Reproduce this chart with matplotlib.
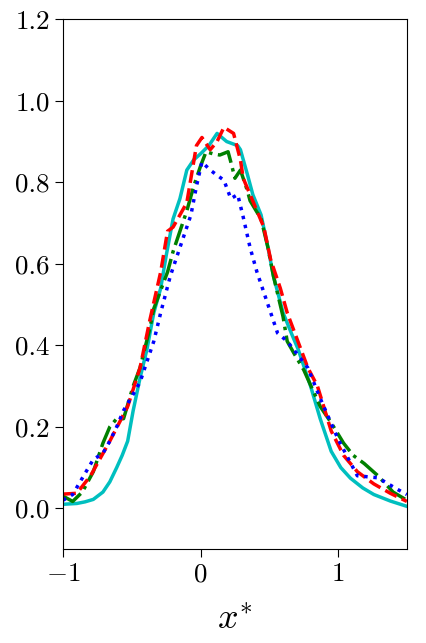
import numpy as np
import matplotlib
matplotlib.use("Agg")
import matplotlib.pyplot as plt

plt.rcParams['font.family'] = 'serif'
plt.rcParams['font.serif'] = ['cmr10']
plt.rcParams['mathtext.fontset'] = 'cm'
plt.rcParams['axes.formatter.use_mathtext'] = True

# cyan solid
x_c = [-1.0, -0.90, -0.84, -0.78, -0.71, -0.66, -0.61, -0.57, -0.53, -0.49, -0.44, -0.39, -0.34,
       -0.29, -0.25, -0.20, -0.15, -0.10, -0.05, 0.0, 0.06, 0.12, 0.19, 0.23, 0.27, 0.29, 0.34,
       0.38, 0.44, 0.49, 0.53, 0.60, 0.66, 0.71, 0.80, 0.87, 0.95, 1.02, 1.09, 1.18, 1.26, 1.38, 1.5]
y_c = [0.01, 0.012, 0.016, 0.022, 0.04, 0.065, 0.10, 0.13, 0.165, 0.24, 0.32, 0.39, 0.48,
       0.54, 0.62, 0.71, 0.76, 0.83, 0.855, 0.87, 0.89, 0.92, 0.90, 0.895, 0.89, 0.88, 0.82,
       0.77, 0.72, 0.64, 0.57, 0.48, 0.43, 0.39, 0.30, 0.22, 0.14, 0.10, 0.074, 0.05, 0.034, 0.018, 0.005]

# red dashed
x_r = [-1.0, -0.90, -0.80, -0.66, -0.53, -0.44, -0.37, -0.29, -0.24, -0.20, -0.10, -0.03, 0.01,
       0.07, 0.12, 0.17, 0.24, 0.29, 0.31, 0.46, 0.51, 0.58, 0.63, 0.68, 0.78, 0.85, 0.95, 1.04,
       1.14, 1.26, 1.38, 1.5]
y_r = [0.035, 0.037, 0.08, 0.165, 0.25, 0.345, 0.46, 0.58, 0.68, 0.69, 0.75, 0.89, 0.91,
       0.88, 0.90, 0.935, 0.92, 0.855, 0.81, 0.69, 0.61, 0.54, 0.48, 0.435, 0.345, 0.30, 0.19, 0.13,
       0.09, 0.06, 0.037, 0.017]

# green dash-dot
x_g = [-1.0, -0.93, -0.86, -0.78, -0.71, -0.66, -0.61, -0.56, -0.49, -0.44, -0.37, -0.34, -0.24,
       -0.20, -0.15, -0.10, -0.05, 0.0, 0.04, 0.09, 0.14, 0.20, 0.22, 0.25, 0.29, 0.34, 0.36, 0.44,
       0.49, 0.53, 0.60, 0.63, 0.68, 0.75, 0.87, 0.95, 1.04, 1.11, 1.19, 1.29, 1.40, 1.5]
y_g = [0.03, 0.017, 0.04, 0.09, 0.16, 0.20, 0.22, 0.22, 0.30, 0.345, 0.44, 0.49, 0.58,
       0.63, 0.68, 0.73, 0.79, 0.84, 0.875, 0.87, 0.867, 0.875, 0.85, 0.81, 0.83, 0.78, 0.755, 0.71,
       0.64, 0.57, 0.47, 0.41, 0.38, 0.34, 0.25, 0.21, 0.16, 0.13, 0.11, 0.08, 0.04, 0.02]

# blue dotted
x_b = [-1.0, -0.93, -0.85, -0.78, -0.71, -0.66, -0.61, -0.56, -0.49, -0.44, -0.39, -0.34, -0.29,
       -0.22, -0.15, -0.07, -0.03, 0.01, 0.07, 0.17, 0.22, 0.27, 0.31, 0.36, 0.41, 0.46, 0.51,
       0.56, 0.63, 0.78, 0.87, 1.0, 1.14, 1.29, 1.43, 1.5]
y_b = [0.02, 0.034, 0.08, 0.12, 0.135, 0.165, 0.20, 0.24, 0.28, 0.31, 0.36, 0.41, 0.48,
       0.57, 0.64, 0.72, 0.79, 0.85, 0.83, 0.805, 0.76, 0.77, 0.715, 0.64, 0.58, 0.53, 0.48,
       0.43, 0.41, 0.345, 0.27, 0.17, 0.08, 0.075, 0.047, 0.034]

fig = plt.figure(figsize=(4.26, 6.43), dpi=100)
ax = fig.add_axes([0.148, 0.146, 0.807, 0.824])

ax.plot(x_c, y_c, color='c', lw=2.5, ls='-')
ax.plot(x_g, y_g, color='g', lw=2.5, ls='-.')
ax.plot(x_r, y_r, color='r', lw=2.5, ls='--')
ax.plot(x_b, y_b, color='b', lw=2.5, ls=':')

ax.set_xlim(-1, 1.5)
ax.set_ylim(-0.1, 1.2)
ax.set_xticks([-1, 0, 1])
ax.set_yticks(np.arange(0, 1.21, 0.2))
ax.set_yticklabels(['0.0', '0.2', '0.4', '0.6', '0.8', '1.0', '1.2'])
ax.tick_params(labelsize=19.5, length=5.5, pad=4)
ax.set_xlabel(r'$x^{*}$', fontsize=26, labelpad=13)

fig.savefig('out.png', dpi=100)
